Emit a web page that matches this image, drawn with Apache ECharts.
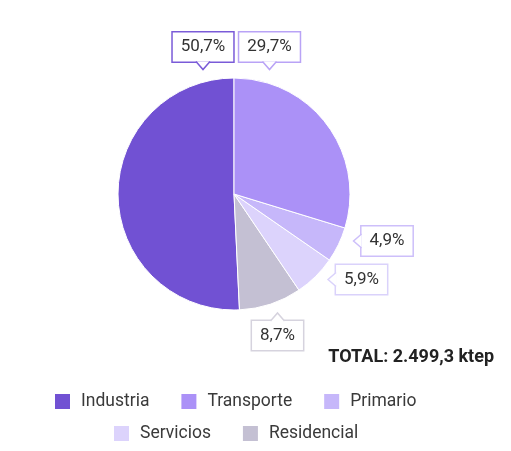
<!DOCTYPE html>
<html>
<head>
<meta charset="utf-8">
<script src="https://cdn.jsdelivr.net/npm/echarts@6/dist/echarts.min.js"></script>
<style>
  html, body { margin: 0; padding: 0; background: #fff; }
  #chart { width: 511px; height: 451px; }
</style>
</head>
<body>
<div id="chart"></div>
<script>
// data, in drawing order (counter-clockwise from 12 o'clock)
const sectors = ['Industria', 'Residencial', 'Servicios', 'Primario', 'Transporte']
const shares = [50.7, 8.7, 5.9, 4.9, 29.7]
const legendRow1 = ['Industria', 'Transporte', 'Primario']
const legendRow2 = ['Servicios', 'Residencial']
const totalText = 'TOTAL: 2.499,3 ktep'

const colors = {
  Industria: '#7151d3',
  Transporte: '#ab91f7',
  Primario: '#c6b7fa',
  Servicios: '#dcd3fc',
  Residencial: '#c4c0d3'
}
const boxBorder = {
  Industria: '#7a5bd8',
  Transporte: '#b9a3f6',
  Primario: '#cdbffa',
  Servicios: '#dad2fb',
  Residencial: '#d6d3de'
}
// callout boxes: centre of the box, side of the pointer
const callout = {
  Industria: { cx: 203, cy: 47, dir: 'down' },
  Transporte: { cx: 269.5, cy: 47, dir: 'down' },
  Primario: { cx: 387, cy: 241, dir: 'left' },
  Servicios: { cx: 361.5, cy: 279.5, dir: 'left' },
  Residencial: { cx: 277.5, cy: 335.5, dir: 'up' }
}
const boxH = 29
const ptrHalf = 7
const ptrLen = 8

const font = 'Roboto, "Noto Sans", sans-serif'
const chart = echarts.init(document.getElementById('chart'), null, { renderer: 'canvas' })

const rich = {}
sectors.forEach((s, i) => {
  rich['b' + i] = {
    fontSize: 17, fontFamily: font, color: '#333',
    backgroundColor: '#fff', borderColor: boxBorder[s], borderWidth: 1.5,
    padding: [6, 8, 6, 8], lineHeight: 17
  }
})

const fmt = v => v.toFixed(1).replace('.', ',') + '%'

// box widths are needed for the left-pointing callouts
const ctx = document.createElement('canvas').getContext('2d')
ctx.font = '17px ' + font
sectors.forEach((s, i) => {
  const w = ctx.measureText(fmt(shares[i])).width + 16
  callout[s].bx = callout[s].cx - w / 2
})

// pointer of each callout: white patch over the box edge + two coloured sides
function pointer (name) {
  const c = callout[name]
  let pts
  if (c.dir === 'down') {
    const y = c.cy + boxH / 2
    pts = [[c.cx - ptrHalf, y], [c.cx, y + ptrLen], [c.cx + ptrHalf, y]]
  } else if (c.dir === 'up') {
    const y = c.cy - boxH / 2
    pts = [[c.cx - ptrHalf, y], [c.cx, y - ptrLen], [c.cx + ptrHalf, y]]
  } else {
    const x = c.bx
    pts = [[x, c.cy - ptrHalf], [x - ptrLen, c.cy], [x, c.cy + ptrHalf]]
  }
  return [
    { type: 'polygon', z: 100, silent: true, shape: { points: pts }, style: { fill: '#fff' } },
    { type: 'polyline', z: 101, silent: true, shape: { points: pts },
      style: { stroke: boxBorder[name], lineWidth: 1.5, fill: null } }
  ]
}

const graphics = []
sectors.forEach(s => graphics.push(...pointer(s)))

chart.setOption({
  animation: false,
  title: {
    text: totalText,
    right: 12,
    top: 343,
    textStyle: { fontFamily: font, fontSize: 18, fontWeight: 'bold', color: '#222' }
  },
  legend: [
    {
      data: legendRow1, left: 48, top: 387, itemWidth: 17, itemHeight: 17, itemGap: 30,
      icon: 'rect', textStyle: { fontFamily: font, fontSize: 17.5, color: '#3a3a3a', padding: [0, 0, 0, 5] }
    },
    {
      data: legendRow2, left: 107, top: 419, itemWidth: 17, itemHeight: 17, itemGap: 30,
      icon: 'rect', textStyle: { fontFamily: font, fontSize: 17.5, color: '#3a3a3a', padding: [0, 0, 0, 5] }
    }
  ],
  graphic: graphics,
  series: [{
    type: 'pie',
    center: [234, 194],
    radius: 116,
    startAngle: 90,
    clockwise: false,
    itemStyle: { borderColor: '#fff', borderWidth: 1 },
    labelLine: { show: false },
    label: {
      show: true,
      position: 'outside',
      formatter: p => '{b' + p.dataIndex + '|' + fmt(p.value) + '}',
      rich: rich
    },
    labelLayout: p => {
      const c = callout[sectors[p.dataIndex]]
      return { x: c.cx, y: c.cy, align: 'center', verticalAlign: 'middle' }
    },
    data: sectors.map((s, i) => ({
      name: s,
      value: shares[i],
      itemStyle: { color: colors[s] }
    }))
  }]
})
</script>
</body>
</html>
